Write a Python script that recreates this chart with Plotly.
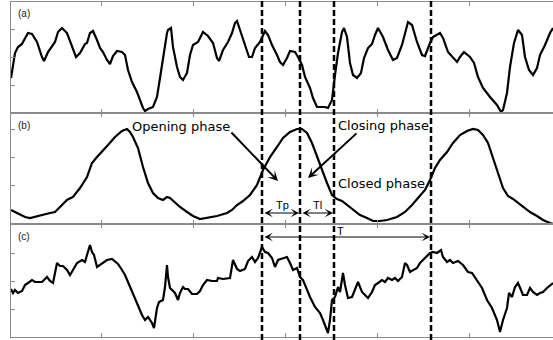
import plotly.graph_objects as go

# ---------------- data (time in samples, amplitude in arbitrary units) ----------------
t_a = [2, 6, 9, 13, 14, 19, 23, 28, 33, 35, 39, 44, 46, 49, 53, 58, 63, 67, 71, 76, 78, 81, 84, 86, 88,
       91, 94, 98, 101, 104, 108, 113, 116, 119, 123, 128, 131, 134, 136, 139, 144, 148, 151, 154, 158,
       159, 162, 164, 168, 171, 174, 178, 181, 184, 189, 194, 199, 204, 208, 210, 214, 219, 223, 226, 228,
       231, 236, 240, 243, 246, 251, 256, 259, 263, 268, 271, 274, 278, 281, 286, 289, 293, 296, 301, 304,
       308, 313, 316, 319, 323, 326, 329, 333, 335, 338, 341, 344, 348, 352, 355, 359, 363, 366, 369, 374,
       379, 384, 388, 393, 396, 399, 403, 408, 413, 416, 421, 424, 431, 434, 439, 444, 448, 451, 455, 461,
       465, 469, 474, 481, 488, 492, 494, 498, 501, 505, 509, 513, 516, 520, 524, 528, 531, 536, 541, 544]
amp_a = [35, 60, 66, 69, 71, 80, 79, 71, 56, 52, 61, 69, 71, 81, 85, 80, 66, 56, 60, 69, 70, 80, 82, 78, 73,
         65, 61, 53, 49, 57, 62, 61, 58, 43, 31, 21, 13, 5, 2, 4, 6, 16, 35, 55, 80,
         83, 85, 66, 46, 36, 33, 40, 58, 68, 71, 81, 77, 70, 55, 52, 63, 71, 80, 90, 92,
         83, 68, 56, 56, 65, 71, 82, 78, 68, 58, 51, 48, 55, 62, 61, 56, 48, 36, 25, 15,
         6, 6, 6, 5, 13, 38, 60, 81, 85, 76, 50, 38, 35, 40, 55, 65, 69, 78, 85, 76,
         63, 53, 55, 68, 80, 91, 88, 71, 58, 57, 70, 76, 80, 75, 61, 56, 51, 56, 61, 56,
         50, 36, 25, 16, 8, 1, 3, 20, 46, 70, 83, 78, 56, 43, 38, 45, 58, 68, 80, 85]

t_b = [2, 8, 16, 21, 28, 34, 41, 46, 51, 58, 64, 71, 78, 83, 88, 93, 99, 106, 113, 118, 121, 124, 129,
       134, 139, 144, 149, 154, 158, 161, 166, 171, 178, 184, 191, 198, 208, 218, 223, 228, 234, 241,
       248, 254, 261, 268, 274, 281, 288, 293, 298, 303, 308, 313, 318, 323, 328, 333, 338, 344, 351,
       358, 364, 371, 378, 388, 396, 403, 409, 416, 421, 426, 431, 438, 444, 451, 458, 464, 469, 474,
       479, 484, 489, 494, 499, 504, 509, 514, 521, 528, 534, 541, 544]
amp_b = [14, 11, 7, 6, 8, 9, 11, 12, 17, 24, 27, 36, 47, 61, 67, 72, 79, 87, 93, 95, 92, 87, 76,
         57, 41, 31, 26, 24, 27, 26, 21, 17, 12, 8, 5, 6, 8, 11, 14, 19, 23, 29,
         39, 54, 67, 77, 86, 92, 95, 95, 91, 81, 67, 54, 41, 29, 25, 23, 19, 14, 9,
         6, 3, 3, 4, 7, 12, 19, 26, 34, 44, 56, 64, 72, 81, 89, 93, 95, 94, 89,
         81, 67, 51, 36, 28, 25, 21, 17, 12, 8, 4, 1, 0]

t_c = [2, 4, 6, 9, 13, 16, 19, 23, 26, 29, 33, 38, 41, 44, 48, 51, 54, 58, 61, 64, 68, 73, 76, 78, 81,
       83, 85, 88, 91, 94, 98, 103, 106, 109, 113, 116, 119, 123, 126, 129, 133, 136, 139, 143, 145,
       148, 150, 154, 156, 158, 159, 161, 166, 169, 171, 174, 176, 179, 183, 188, 191, 194, 198, 203,
       208, 209, 214, 221, 224, 228, 231, 236, 239, 243, 246, 249, 253, 256, 259, 263, 266, 269, 274,
       278, 281, 284, 288, 291, 294, 298, 301, 306, 311, 314, 318, 319, 321, 323, 326, 329, 331, 334,
       336, 339, 343, 346, 349, 353, 356, 359, 363, 366, 369, 373, 376, 379, 383, 386, 389, 393, 396,
       398, 401, 404, 408, 411, 414, 418, 421, 424, 428, 432, 434, 438, 441, 444, 449, 454, 459, 463,
       468, 473, 478, 483, 488, 491, 494, 498, 500, 503, 506, 509, 512, 514, 518, 521, 524, 528, 531,
       534, 538, 541, 544]
amp_c = [48, 44, 47, 44, 46, 52, 54, 57, 55, 55, 55, 60, 56, 54, 74, 71, 71, 67, 62, 67, 74, 77, 75, 82, 92,
         85, 82, 70, 72, 74, 77, 78, 75, 73, 67, 62, 55, 45, 39, 30, 22, 17, 20, 14, 9,
         29, 35, 37, 50, 72, 60, 49, 44, 37, 44, 50, 48, 48, 43, 43, 46, 52, 57, 56,
         56, 59, 58, 59, 77, 68, 66, 68, 76, 80, 75, 79, 90, 85, 84, 79, 70, 77, 79,
         80, 74, 67, 69, 60, 57, 47, 40, 30, 24, 17, 7, 4, 17, 37, 40, 50, 45, 64,
         52, 39, 40, 47, 55, 45, 42, 39, 45, 52, 54, 57, 55, 59, 57, 59, 56, 60, 74,
         72, 65, 67, 69, 74, 77, 80, 84, 85, 84, 87, 80, 75, 77, 74, 76, 72, 65, 64,
         57, 49, 37, 29, 17, 5, 17, 29, 44, 40, 50, 54, 47, 42, 42, 49, 45, 42, 44,
         45, 49, 52, 54]

dash_t = [253, 291, 325, 422]          # vertical dashed markers (samples)
x_ticks = [92, 184, 276, 368, 460]
yticks_a = [28, 56, 84]
yticks_b = [39, 67, 95]
yticks_c = [28, 56, 84]
panel_labels = ["(a)", "(b)", "(c)"]

# ---------------- layout geometry ----------------
W, H = 553, 340
ML, MR, MT, MB = 11, 0, 2, 3
PH = H - MT - MB


def py(ypx):
    return (H - MB - ypx) / PH


def px_to_t(xpx):
    return xpx - 9


GRAY = "#8a8a8a"
LINE = dict(color="black", width=2.2)

fig = go.Figure()
fig.add_trace(go.Scatter(x=t_a, y=amp_a, xaxis="x", yaxis="y", mode="lines", line=LINE))
fig.add_trace(go.Scatter(x=t_b, y=amp_b, xaxis="x2", yaxis="y2", mode="lines", line=LINE))
fig.add_trace(go.Scatter(x=t_c, y=amp_c, xaxis="x3", yaxis="y3", mode="lines", line=LINE))

xcommon = dict(range=[2, 544], showline=True, linecolor=GRAY, linewidth=1.2, mirror="ticks",
               ticks="inside", ticklen=4, tickwidth=1, tickcolor=GRAY, tickvals=x_ticks,
               showticklabels=False, showgrid=False, zeroline=False, fixedrange=True)
ycommon = dict(showline=True, linecolor=GRAY, linewidth=1.2, mirror=False,
               ticks="inside", ticklen=4, tickwidth=1, tickcolor=GRAY,
               showticklabels=False, showgrid=False, zeroline=False, fixedrange=True)

fig.update_layout(
    width=W, height=H,
    margin=dict(l=ML, r=MR, t=MT, b=MB, pad=0),
    paper_bgcolor="white", plot_bgcolor="white",
    showlegend=False,
    xaxis=dict(xcommon, anchor="y"),
    xaxis2=dict(xcommon, anchor="y2"),
    xaxis3=dict(xcommon, anchor="y3"),
    yaxis=dict(ycommon, anchor="x", domain=[py(113), 1], range=[0, 111], tickvals=yticks_a),
    yaxis2=dict(ycommon, anchor="x2", domain=[py(224), py(113)], range=[0, 111], tickvals=yticks_b),
    yaxis3=dict(ycommon, anchor="x3", domain=[0, py(224)], range=[0, 113], tickvals=yticks_c),
)

# dashed vertical lines across all panels
for t in dash_t:
    fig.add_shape(type="line", xref="x", yref="paper", x0=t, x1=t, y0=py(340), y1=py(0),
                  line=dict(color="black", width=2.5, dash="6px,3px"), layer="above")

ann = []
# panel labels
for lab, ypx in zip(panel_labels, [13, 125, 236]):
    ann.append(dict(text=lab, xref="paper", yref="paper", x=(16 - ML) / (W - ML - MR), y=py(ypx),
                    xanchor="left", yanchor="middle", showarrow=False,
                    font=dict(family="Liberation Sans", size=10, color="#222")))

TXT = dict(family="DejaVu Sans", size=13, color="black")
for txt, xpx, ypx in [("Opening phase", 181, 126), ("Closing phase", 383.5, 125), ("Closed phase", 381, 183)]:
    ann.append(dict(text=txt, xref="x", yref="paper", x=px_to_t(xpx), y=py(ypx),
                    xanchor="center", yanchor="middle", showarrow=False, font=TXT))

SM = dict(family="Liberation Sans", size=11, color="black")
for txt, xpx, ypx in [("Tp", 282, 205), ("Tl", 317, 205), ("T", 340, 231)]:
    ann.append(dict(text=txt, xref="x", yref="paper", x=px_to_t(xpx), y=py(ypx),
                    xanchor="center", yanchor="middle", showarrow=False, font=SM))

# big arrows
for hx, hy, tx, ty in [(278, 181, 230, 131), (308, 178, 358, 132)]:
    ann.append(dict(text="", xref="x", yref="paper", x=px_to_t(hx), y=py(hy),
                    ax=tx - hx, ay=ty - hy, showarrow=True, arrowhead=3, arrowsize=0.85,
                    arrowwidth=2, arrowcolor="black", standoff=0, startstandoff=0))

# interval arrows (double-headed), between dashed markers
for t0, t1, ypx in [(dash_t[0], dash_t[1], 213), (dash_t[1], dash_t[2], 213), (dash_t[0], dash_t[3], 237)]:
    ann.append(dict(text="", xref="x", yref="paper", x=t1, y=py(ypx),
                    ax=t0 - t1, ay=0, showarrow=True, arrowhead=3, startarrowhead=3,
                    arrowside="end+start", arrowsize=1.4, startarrowsize=1.4,
                    arrowwidth=1, arrowcolor="black", standoff=1, startstandoff=1))

fig.update_layout(annotations=ann)
fig.write_html(
    "out.html",
    config={"displayModeBar": False, "staticPlot": True},
    post_script="document.body.style.margin='0';document.body.style.overflow='hidden';"
                "document.documentElement.style.overflow='hidden';",
)
